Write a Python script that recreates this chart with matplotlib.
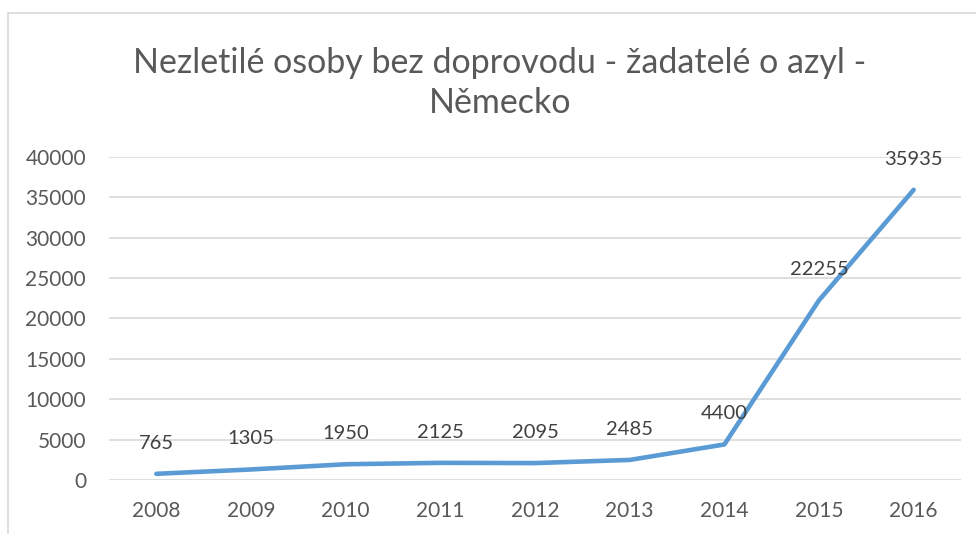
import matplotlib
matplotlib.use("Agg")
import matplotlib.pyplot as plt
from matplotlib.patches import Rectangle

years = ["2008", "2009", "2010", "2011", "2012", "2013", "2014", "2015", "2016"]
values = [765, 1305, 1950, 2125, 2095, 2485, 4400, 22255, 35935]
yticks = [0, 5000, 10000, 15000, 20000, 25000, 30000, 35000, 40000]
title = "Nezletilé osoby bez doprovodu - žadatelé o azyl -\nNěmecko"

plt.rcParams['font.family'] = ['Lato', 'DejaVu Sans']

fig = plt.figure(figsize=(9.76, 5.34), dpi=100)
fig.patch.set_facecolor("white")
# chart border
fig.add_artist(Rectangle((8/976, -0.1), 1.2, 1 - 13/534 + 0.1, transform=fig.transFigure,
                         fill=False, edgecolor="#D9D9D9", linewidth=1.2))

ax = fig.add_axes([109/976, 1 - 480/534, (961 - 109)/976, (480 - 157)/534])
x = list(range(len(years)))
ax.plot(x, values, color="#5B9BD5", linewidth=3.3, solid_capstyle="round", zorder=3)
for xi, v in zip(x, values):
    ax.annotate(str(v), (xi, v), xytext=(0, 22), textcoords="offset points",
                ha="center", va="center", fontsize=14.5, color="#404040", zorder=4)

ax.set_xlim(-0.5, len(years) - 0.5)
ax.set_ylim(0, 40000)
ax.set_yticks(yticks)
ax.set_yticklabels([str(t) for t in yticks])
ax.set_xticks(x)
ax.set_xticklabels(years)
ax.grid(axis="y", color="#D9D9D9", linewidth=1.2)
ax.set_axisbelow(True)
for s in ax.spines.values():
    s.set_visible(False)
ax.tick_params(axis="both", length=0, labelsize=15, labelcolor="#595959")
ax.tick_params(axis="y", pad=16.5)
ax.tick_params(axis="x", pad=15)

fig.text(500/976, 1 - 83/534, title, ha="center", va="center", fontsize=24.5,
         color="#595959", linespacing=1.3)

fig.savefig("out.png", dpi=100)
